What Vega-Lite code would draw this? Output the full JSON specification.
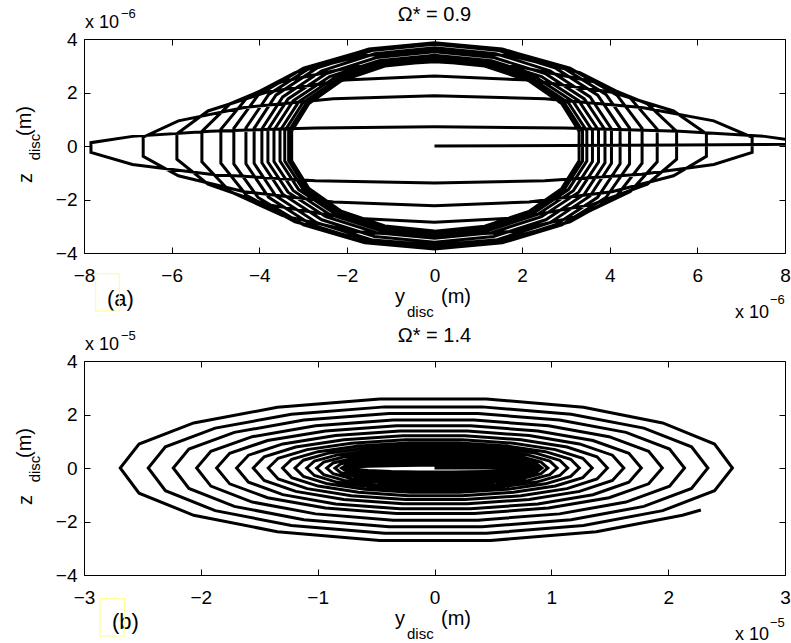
{
"$schema":"https://vega.github.io/schema/vega-lite/v6.json",
"background":"white",
"padding":{"left":14,"top":4,"right":0,"bottom":0},
"autosize":{"type":"pad"},
"config":{"font":"Liberation Sans","view":{"stroke":"black","strokeWidth":1},
"axis":{"grid":false,"domain":false,"ticks":true,"tickColor":"black","tickWidth":1,"tickSize":-6,"labelColor":"black","labelFont":"Liberation Sans","labelFontSize":19,"labelFlush":false,"labelOverlap":false,"labelBound":false},
"axisBottom":{"labelPadding":19},"axisLeft":{"labelPadding":13},
"text":{"font":"Liberation Sans","fill":"black"}},
"datasets":{
"a":[
{"i":0,"y":0,"z":0},{"i":1,"y":2.975,"z":0.02},{"i":2,"y":5.594,"z":0.04},{"i":3,"y":7.534,"z":0.06},{"i":4,"y":8.57,"z":0.07},{"i":5,"y":8.57,"z":0.125},{"i":6,"y":7.534,"z":0.36},{"i":7,"y":5.594,"z":0.552},{"i":8,"y":2.975,"z":0.677},{"i":9,"y":0,"z":0.72},{"i":10,"y":-2.722,"z":0.677},{"i":11,"y":-5.118,"z":0.552},{"i":12,"y":-6.893,"z":0.36},{"i":13,"y":-7.841,"z":0.125},{"i":14,"y":-7.841,"z":-0.24},{"i":15,"y":-6.893,"z":-0.69},{"i":16,"y":-5.118,"z":-1.057},{"i":17,"y":-2.722,"z":-1.297},
{"i":18,"y":0,"z":-1.38},{"i":19,"y":2.517,"z":-1.297},{"i":20,"y":4.732,"z":-1.057},{"i":21,"y":6.374,"z":-0.69},{"i":22,"y":7.25,"z":-0.24},{"i":23,"y":7.25,"z":0.327},{"i":24,"y":6.374,"z":0.94},{"i":25,"y":4.732,"z":1.44},{"i":26,"y":2.517,"z":1.767},{"i":27,"y":0,"z":1.88},{"i":28,"y":-2.309,"z":1.767},{"i":29,"y":-4.34,"z":1.44},{"i":30,"y":-5.846,"z":0.94},{"i":31,"y":-6.649,"z":0.327},{"i":32,"y":-6.649,"z":-0.388},{"i":33,"y":-5.846,"z":-1.115},{"i":34,"y":-4.34,"z":-1.708},{"i":35,"y":-2.309,"z":-2.096},
{"i":36,"y":0,"z":-2.23},{"i":37,"y":2.155,"z":-2.096},{"i":38,"y":4.051,"z":-1.708},{"i":39,"y":5.456,"z":-1.115},{"i":40,"y":6.206,"z":-0.388},{"i":41,"y":6.206,"z":0.456},{"i":42,"y":5.456,"z":1.31},{"i":43,"y":4.051,"z":2.007},{"i":44,"y":2.155,"z":2.463},{"i":45,"y":0,"z":2.62},{"i":46,"y":-2.042,"z":2.463},{"i":47,"y":-3.839,"z":2.007},{"i":48,"y":-5.17,"z":1.31},{"i":49,"y":-5.88,"z":0.456},{"i":50,"y":-5.88,"z":-0.496},{"i":51,"y":-5.17,"z":-1.425},{"i":52,"y":-3.839,"z":-2.183},{"i":53,"y":-2.042,"z":-2.679},
{"i":54,"y":0,"z":-2.85},{"i":55,"y":1.919,"z":-2.679},{"i":56,"y":3.607,"z":-2.183},{"i":57,"y":4.858,"z":-1.425},{"i":58,"y":5.526,"z":-0.496},{"i":59,"y":5.526,"z":0.548},{"i":60,"y":4.858,"z":1.575},{"i":61,"y":3.607,"z":2.413},{"i":62,"y":1.919,"z":2.961},{"i":63,"y":0,"z":3.15},{"i":64,"y":-1.843,"z":2.961},{"i":65,"y":-3.466,"z":2.413},{"i":66,"y":-4.668,"z":1.575},{"i":67,"y":-5.309,"z":0.548},{"i":68,"y":-5.309,"z":-0.592},{"i":69,"y":-4.668,"z":-1.7},{"i":70,"y":-3.466,"z":-2.604},{"i":71,"y":-1.843,"z":-3.196},
{"i":72,"y":0,"z":-3.4},{"i":73,"y":1.765,"z":-3.196},{"i":74,"y":3.318,"z":-2.604},{"i":75,"y":4.469,"z":-1.7},{"i":76,"y":5.083,"z":-0.592},{"i":77,"y":5.083,"z":0.623},{"i":78,"y":4.469,"z":1.79},{"i":79,"y":3.318,"z":2.742},{"i":80,"y":1.765,"z":3.365},{"i":81,"y":0,"z":3.58},{"i":82,"y":-1.693,"z":3.365},{"i":83,"y":-3.183,"z":2.742},{"i":84,"y":-4.287,"z":1.79},{"i":85,"y":-4.876,"z":0.623},{"i":86,"y":-4.876,"z":-0.644},{"i":87,"y":-4.287,"z":-1.85},{"i":88,"y":-3.183,"z":-2.834},{"i":89,"y":-1.693,"z":-3.478},
{"i":90,"y":0,"z":-3.7},{"i":91,"y":1.645,"z":-3.478},{"i":92,"y":3.093,"z":-2.834},{"i":93,"y":4.165,"z":-1.85},{"i":94,"y":4.738,"z":-0.644},{"i":95,"y":4.738,"z":0.661},{"i":96,"y":4.165,"z":1.9},{"i":97,"y":3.093,"z":2.911},{"i":98,"y":1.645,"z":3.572},{"i":99,"y":0,"z":3.8},{"i":100,"y":-1.59,"z":3.572},{"i":101,"y":-2.99,"z":2.911},{"i":102,"y":-4.027,"z":1.9},{"i":103,"y":-4.58,"z":0.661},{"i":104,"y":-4.58,"z":-0.67},{"i":105,"y":-4.027,"z":-1.925},{"i":106,"y":-2.99,"z":-2.949},{"i":107,"y":-1.59,"z":-3.619},
{"i":108,"y":0,"z":-3.85},{"i":109,"y":1.546,"z":-3.619},{"i":110,"y":2.906,"z":-2.949},{"i":111,"y":3.914,"z":-1.925},{"i":112,"y":4.452,"z":-0.67},{"i":113,"y":4.452,"z":0.672},{"i":114,"y":3.914,"z":1.93},{"i":115,"y":2.906,"z":2.957},{"i":116,"y":1.546,"z":3.628},{"i":117,"y":0,"z":3.86},{"i":118,"y":-1.495,"z":3.628},{"i":119,"y":-2.81,"z":2.957},{"i":120,"y":-3.784,"z":1.93},{"i":121,"y":-4.304,"z":0.672},{"i":122,"y":-4.304,"z":-0.668},{"i":123,"y":-3.784,"z":-1.92},{"i":124,"y":-2.81,"z":-2.941},{"i":125,"y":-1.495,"z":-3.61},
{"i":126,"y":0,"z":-3.84},{"i":127,"y":1.471,"z":-3.61},{"i":128,"y":2.765,"z":-2.941},{"i":129,"y":3.724,"z":-1.92},{"i":130,"y":4.236,"z":-0.668},{"i":131,"y":4.236,"z":0.661},{"i":132,"y":3.724,"z":1.9},{"i":133,"y":2.765,"z":2.911},{"i":134,"y":1.471,"z":3.572},{"i":135,"y":0,"z":3.8},{"i":136,"y":-1.43,"z":3.572},{"i":137,"y":-2.688,"z":2.911},{"i":138,"y":-3.62,"z":1.9},{"i":139,"y":-4.117,"z":0.661},{"i":140,"y":-4.117,"z":-0.651},{"i":141,"y":-3.62,"z":-1.87},{"i":142,"y":-2.688,"z":-2.865},{"i":143,"y":-1.43,"z":-3.516},
{"i":144,"y":0,"z":-3.74},{"i":145,"y":1.402,"z":-3.516},{"i":146,"y":2.636,"z":-2.865},{"i":147,"y":3.551,"z":-1.87},{"i":148,"y":4.039,"z":-0.651},{"i":149,"y":4.039,"z":0.639},{"i":150,"y":3.551,"z":1.835},{"i":151,"y":2.636,"z":2.811},{"i":152,"y":1.402,"z":3.45},{"i":153,"y":0,"z":3.67},{"i":154,"y":-1.368,"z":3.45},{"i":155,"y":-2.572,"z":2.811},{"i":156,"y":-3.464,"z":1.835},{"i":157,"y":-3.94,"z":0.639},{"i":158,"y":-3.94,"z":-0.626},{"i":159,"y":-3.464,"z":-1.8},{"i":160,"y":-2.572,"z":-2.758},{"i":161,"y":-1.368,"z":-3.384},
{"i":162,"y":0,"z":-3.6},{"i":163,"y":1.351,"z":-3.384},{"i":164,"y":2.54,"z":-2.758},{"i":165,"y":3.421,"z":-1.8},{"i":166,"y":3.891,"z":-0.626},{"i":167,"y":3.891,"z":0.612},{"i":168,"y":3.421,"z":1.76},{"i":169,"y":2.54,"z":2.696},{"i":170,"y":1.351,"z":3.309},{"i":171,"y":0,"z":3.52},{"i":172,"y":-1.32,"z":3.309},{"i":173,"y":-2.482,"z":2.696},{"i":174,"y":-3.343,"z":1.76},{"i":175,"y":-3.802,"z":0.612},{"i":176,"y":-3.802,"z":-0.6},{"i":177,"y":-3.343,"z":-1.725},{"i":178,"y":-2.482,"z":-2.643},{"i":179,"y":-1.32,"z":-3.243},
{"i":180,"y":0,"z":-3.45},{"i":181,"y":1.3,"z":-3.243},{"i":182,"y":2.443,"z":-2.643},{"i":183,"y":3.291,"z":-1.725},{"i":184,"y":3.743,"z":-0.6},{"i":185,"y":3.743,"z":0.59},{"i":186,"y":3.291,"z":1.695},{"i":187,"y":2.443,"z":2.597},{"i":188,"y":1.3,"z":3.187},{"i":189,"y":0,"z":3.39},{"i":190,"y":-1.272,"z":3.187},{"i":191,"y":-2.392,"z":2.597},{"i":192,"y":-3.222,"z":1.695},{"i":193,"y":-3.664,"z":0.59},{"i":194,"y":-3.664,"z":-0.581},{"i":195,"y":-3.222,"z":-1.67},{"i":196,"y":-2.392,"z":-2.558},{"i":197,"y":-1.272,"z":-3.14},
{"i":198,"y":0,"z":-3.34},{"i":199,"y":1.252,"z":-3.14},{"i":200,"y":2.353,"z":-2.558},{"i":201,"y":3.17,"z":-1.67},{"i":202,"y":3.605,"z":-0.581},{"i":203,"y":3.605,"z":0.574},{"i":204,"y":3.17,"z":1.65},{"i":205,"y":2.353,"z":2.528},{"i":206,"y":1.252,"z":3.102},{"i":207,"y":0,"z":3.3},{"i":208,"y":-1.224,"z":3.102},{"i":209,"y":-2.302,"z":2.528},{"i":210,"y":-3.1,"z":1.65},{"i":211,"y":-3.526,"z":0.574},{"i":212,"y":-3.526,"z":-0.567},{"i":213,"y":-3.1,"z":-1.63},{"i":214,"y":-2.302,"z":-2.497},{"i":215,"y":-1.224,"z":-3.064},
{"i":216,"y":0,"z":-3.26},{"i":217,"y":1.207,"z":-3.064},{"i":218,"y":2.27,"z":-2.497},{"i":219,"y":3.057,"z":-1.63},{"i":220,"y":3.477,"z":-0.567},{"i":221,"y":3.477,"z":0.562},{"i":222,"y":3.057,"z":1.615},{"i":223,"y":2.27,"z":2.474},{"i":224,"y":1.207,"z":3.036},{"i":225,"y":0,"z":3.23},{"i":226,"y":-1.187,"z":3.036},{"i":227,"y":-2.231,"z":2.474},{"i":228,"y":-3.005,"z":1.615},{"i":229,"y":-3.418,"z":0.562},{"i":230,"y":-3.418,"z":-0.559},{"i":231,"y":-3.005,"z":-1.605},{"i":232,"y":-2.231,"z":-2.459},{"i":233,"y":-1.187,"z":-3.017},
{"i":234,"y":0,"z":-3.21},{"i":235,"y":1.173,"z":-3.017},{"i":236,"y":2.205,"z":-2.459},{"i":237,"y":2.97,"z":-1.605},{"i":238,"y":3.379,"z":-0.559},{"i":239,"y":3.379,"z":0.557},{"i":240,"y":2.97,"z":1.6},{"i":241,"y":2.205,"z":2.451},{"i":242,"y":1.173,"z":3.008},{"i":243,"y":0,"z":3.2},{"i":244,"y":-1.156,"z":3.008},{"i":245,"y":-2.173,"z":2.451},{"i":246,"y":-2.927,"z":1.6},{"i":247,"y":-3.329,"z":0.557},{"i":248,"y":-3.329,"z":-0.555},{"i":249,"y":-2.927,"z":-1.595},{"i":250,"y":-2.173,"z":-2.444},{"i":251,"y":-1.156,"z":-2.999},
{"i":252,"y":0,"z":-3.19},{"i":253,"y":1.146,"z":-2.999},{"i":254,"y":2.154,"z":-2.444},{"i":255,"y":2.901,"z":-1.595},{"i":256,"y":3.3,"z":-0.555},{"i":257,"y":3.3,"z":0.553},{"i":258,"y":2.901,"z":1.59},{"i":259,"y":2.154,"z":2.436},{"i":260,"y":1.146,"z":2.989},{"i":261,"y":0,"z":3.18},{"i":262,"y":-1.132,"z":2.989},{"i":263,"y":-2.128,"z":2.436},{"i":264,"y":-2.866,"z":1.59},{"i":265,"y":-3.26,"z":0.553},{"i":266,"y":-3.26,"z":-0.553},{"i":267,"y":-2.866,"z":-1.59},{"i":268,"y":-2.128,"z":-2.436},{"i":269,"y":-1.132,"z":-2.989},{"i":270,"y":0,"z":-3.18}
],
"b":[
{"i":0,"y":0,"z":0},
{"i":1,"y":0.155,"z":0},{"i":2,"y":0.445,"z":0},{"i":3,"y":0.682,"z":0},{"i":4,"y":0.837,"z":0},{"i":5,"y":0.89,"z":0},{"i":6,"y":0.837,"z":0.034},{"i":7,"y":0.682,"z":0.064},{"i":8,"y":0.445,"z":0.087},{"i":9,"y":0.155,"z":0.099},{"i":10,"y":-0.129,"z":0.099},{"i":11,"y":-0.37,"z":0.087},{"i":12,"y":-0.567,"z":0.064},{"i":13,"y":-0.696,"z":0.034},{"i":14,"y":-0.74,"z":0},{"i":15,"y":-0.696,"z":-0.051},{"i":16,"y":-0.567,"z":-0.096},{"i":17,"y":-0.37,"z":-0.13},{"i":18,"y":-0.129,"z":-0.148},
{"i":19,"y":0.15,"z":-0.148},{"i":20,"y":0.43,"z":-0.13},{"i":21,"y":0.659,"z":-0.096},{"i":22,"y":0.808,"z":-0.051},{"i":23,"y":0.86,"z":0},{"i":24,"y":0.808,"z":0.062},{"i":25,"y":0.659,"z":0.116},{"i":26,"y":0.43,"z":0.156},{"i":27,"y":0.15,"z":0.177},{"i":28,"y":-0.131,"z":0.177},{"i":29,"y":-0.375,"z":0.156},{"i":30,"y":-0.575,"z":0.116},{"i":31,"y":-0.705,"z":0.062},{"i":32,"y":-0.75,"z":0},{"i":33,"y":-0.705,"z":-0.082},{"i":34,"y":-0.575,"z":-0.154},{"i":35,"y":-0.375,"z":-0.208},{"i":36,"y":-0.131,"z":-0.236},
{"i":37,"y":0.148,"z":-0.236},{"i":38,"y":0.425,"z":-0.208},{"i":39,"y":0.651,"z":-0.154},{"i":40,"y":0.799,"z":-0.082},{"i":41,"y":0.85,"z":0},{"i":42,"y":0.799,"z":0.092},{"i":43,"y":0.651,"z":0.174},{"i":44,"y":0.425,"z":0.234},{"i":45,"y":0.148,"z":0.266},{"i":46,"y":-0.134,"z":0.266},{"i":47,"y":-0.385,"z":0.234},{"i":48,"y":-0.59,"z":0.174},{"i":49,"y":-0.724,"z":0.092},{"i":50,"y":-0.77,"z":0},{"i":51,"y":-0.724,"z":-0.113},{"i":52,"y":-0.59,"z":-0.212},{"i":53,"y":-0.385,"z":-0.286},{"i":54,"y":-0.134,"z":-0.325},
{"i":55,"y":0.15,"z":-0.325},{"i":56,"y":0.43,"z":-0.286},{"i":57,"y":0.659,"z":-0.212},{"i":58,"y":0.808,"z":-0.113},{"i":59,"y":0.86,"z":0},{"i":60,"y":0.808,"z":0.123},{"i":61,"y":0.659,"z":0.231},{"i":62,"y":0.43,"z":0.312},{"i":63,"y":0.15,"z":0.355},{"i":64,"y":-0.138,"z":0.355},{"i":65,"y":-0.398,"z":0.312},{"i":66,"y":-0.609,"z":0.231},{"i":67,"y":-0.747,"z":0.123},{"i":68,"y":-0.795,"z":0},{"i":69,"y":-0.747,"z":-0.147},{"i":70,"y":-0.609,"z":-0.276},{"i":71,"y":-0.398,"z":-0.372},{"i":72,"y":-0.138,"z":-0.424},
{"i":73,"y":0.153,"z":-0.424},{"i":74,"y":0.44,"z":-0.372},{"i":75,"y":0.674,"z":-0.276},{"i":76,"y":0.827,"z":-0.147},{"i":77,"y":0.88,"z":0},{"i":78,"y":0.827,"z":0.154},{"i":79,"y":0.674,"z":0.289},{"i":80,"y":0.44,"z":0.39},{"i":81,"y":0.153,"z":0.443},{"i":82,"y":-0.148,"z":0.443},{"i":83,"y":-0.426,"z":0.39},{"i":84,"y":-0.653,"z":0.289},{"i":85,"y":-0.801,"z":0.154},{"i":86,"y":-0.852,"z":0},{"i":87,"y":-0.801,"z":-0.178},{"i":88,"y":-0.653,"z":-0.334},{"i":89,"y":-0.426,"z":-0.45},{"i":90,"y":-0.148,"z":-0.512},
{"i":91,"y":0.16,"z":-0.512},{"i":92,"y":0.46,"z":-0.45},{"i":93,"y":0.705,"z":-0.334},{"i":94,"y":0.865,"z":-0.178},{"i":95,"y":0.92,"z":0},{"i":96,"y":0.865,"z":0.188},{"i":97,"y":0.705,"z":0.354},{"i":98,"y":0.46,"z":0.476},{"i":99,"y":0.16,"z":0.542},{"i":100,"y":-0.161,"z":0.542},{"i":101,"y":-0.462,"z":0.476},{"i":102,"y":-0.707,"z":0.354},{"i":103,"y":-0.868,"z":0.188},{"i":104,"y":-0.923,"z":0},{"i":105,"y":-0.868,"z":-0.212},{"i":106,"y":-0.707,"z":-0.399},{"i":107,"y":-0.462,"z":-0.537},{"i":108,"y":-0.161,"z":-0.611},
{"i":109,"y":0.169,"z":-0.611},{"i":110,"y":0.485,"z":-0.537},{"i":111,"y":0.743,"z":-0.399},{"i":112,"y":0.912,"z":-0.212},{"i":113,"y":0.97,"z":0},{"i":114,"y":0.912,"z":0.222},{"i":115,"y":0.743,"z":0.418},{"i":116,"y":0.485,"z":0.563},{"i":117,"y":0.169,"z":0.64},{"i":118,"y":-0.176,"z":0.64},{"i":119,"y":-0.505,"z":0.563},{"i":120,"y":-0.773,"z":0.418},{"i":121,"y":-0.948,"z":0.222},{"i":122,"y":-1.009,"z":0},{"i":123,"y":-0.948,"z":-0.246},{"i":124,"y":-0.773,"z":-0.463},{"i":125,"y":-0.505,"z":-0.624},{"i":126,"y":-0.176,"z":-0.709},
{"i":127,"y":0.183,"z":-0.709},{"i":128,"y":0.525,"z":-0.624},{"i":129,"y":0.804,"z":-0.463},{"i":130,"y":0.987,"z":-0.246},{"i":131,"y":1.05,"z":0},{"i":132,"y":0.987,"z":0.257},{"i":133,"y":0.804,"z":0.482},{"i":134,"y":0.525,"z":0.65},{"i":135,"y":0.183,"z":0.739},{"i":136,"y":-0.19,"z":0.739},{"i":137,"y":-0.547,"z":0.65},{"i":138,"y":-0.838,"z":0.482},{"i":139,"y":-1.028,"z":0.257},{"i":140,"y":-1.094,"z":0},{"i":141,"y":-1.028,"z":-0.28},{"i":142,"y":-0.838,"z":-0.527},{"i":143,"y":-0.547,"z":-0.71},{"i":144,"y":-0.19,"z":-0.808},
{"i":145,"y":0.198,"z":-0.808},{"i":146,"y":0.57,"z":-0.71},{"i":147,"y":0.873,"z":-0.527},{"i":148,"y":1.072,"z":-0.28},{"i":149,"y":1.14,"z":0},{"i":150,"y":1.072,"z":0.291},{"i":151,"y":0.873,"z":0.547},{"i":152,"y":0.57,"z":0.736},{"i":153,"y":0.198,"z":0.837},{"i":154,"y":-0.208,"z":0.837},{"i":155,"y":-0.597,"z":0.736},{"i":156,"y":-0.915,"z":0.547},{"i":157,"y":-1.122,"z":0.291},{"i":158,"y":-1.194,"z":0},{"i":159,"y":-1.122,"z":-0.315},{"i":160,"y":-0.915,"z":-0.592},{"i":161,"y":-0.597,"z":-0.797},{"i":162,"y":-0.208,"z":-0.906},
{"i":163,"y":0.216,"z":-0.906},{"i":164,"y":0.62,"z":-0.797},{"i":165,"y":0.95,"z":-0.592},{"i":166,"y":1.166,"z":-0.315},{"i":167,"y":1.24,"z":0},{"i":168,"y":1.166,"z":0.325},{"i":169,"y":0.95,"z":0.611},{"i":170,"y":0.62,"z":0.823},{"i":171,"y":0.216,"z":0.936},{"i":172,"y":-0.226,"z":0.936},{"i":173,"y":-0.65,"z":0.823},{"i":174,"y":-0.996,"z":0.611},{"i":175,"y":-1.222,"z":0.325},{"i":176,"y":-1.3,"z":0},{"i":177,"y":-1.222,"z":-0.359},{"i":178,"y":-0.996,"z":-0.675},{"i":179,"y":-0.65,"z":-0.909},{"i":180,"y":-0.226,"z":-1.034},
{"i":181,"y":0.235,"z":-1.034},{"i":182,"y":0.675,"z":-0.909},{"i":183,"y":1.034,"z":-0.675},{"i":184,"y":1.269,"z":-0.359},{"i":185,"y":1.35,"z":0},{"i":186,"y":1.269,"z":0.366},{"i":187,"y":1.034,"z":0.688},{"i":188,"y":0.675,"z":0.927},{"i":189,"y":0.235,"z":1.054},{"i":190,"y":-0.248,"z":1.054},{"i":191,"y":-0.712,"z":0.927},{"i":192,"y":-1.09,"z":0.688},{"i":193,"y":-1.338,"z":0.366},{"i":194,"y":-1.423,"z":0},{"i":195,"y":-1.338,"z":-0.41},{"i":196,"y":-1.09,"z":-0.772},{"i":197,"y":-0.712,"z":-1.039},{"i":198,"y":-0.248,"z":-1.182},
{"i":199,"y":0.258,"z":-1.182},{"i":200,"y":0.74,"z":-1.039},{"i":201,"y":1.134,"z":-0.772},{"i":202,"y":1.391,"z":-0.41},{"i":203,"y":1.48,"z":0},{"i":204,"y":1.391,"z":0.417},{"i":205,"y":1.134,"z":0.784},{"i":206,"y":0.74,"z":1.057},{"i":207,"y":0.258,"z":1.202},{"i":208,"y":-0.27,"z":1.202},{"i":209,"y":-0.776,"z":1.057},{"i":210,"y":-1.188,"z":0.784},{"i":211,"y":-1.458,"z":0.417},{"i":212,"y":-1.551,"z":0},{"i":213,"y":-1.458,"z":-0.465},{"i":214,"y":-1.188,"z":-0.874},{"i":215,"y":-0.776,"z":-1.178},{"i":216,"y":-0.27,"z":-1.34},
{"i":217,"y":0.282,"z":-1.34},{"i":218,"y":0.81,"z":-1.178},{"i":219,"y":1.241,"z":-0.874},{"i":220,"y":1.523,"z":-0.465},{"i":221,"y":1.62,"z":0},{"i":222,"y":1.523,"z":0.479},{"i":223,"y":1.241,"z":0.9},{"i":224,"y":0.81,"z":1.212},{"i":225,"y":0.282,"z":1.379},{"i":226,"y":-0.295,"z":1.379},{"i":227,"y":-0.847,"z":1.212},{"i":228,"y":-1.298,"z":0.9},{"i":229,"y":-1.592,"z":0.479},{"i":230,"y":-1.694,"z":0},{"i":231,"y":-1.592,"z":-0.53},{"i":232,"y":-1.298,"z":-0.997},{"i":233,"y":-0.847,"z":-1.342},{"i":234,"y":-0.295,"z":-1.527},
{"i":235,"y":0.308,"z":-1.527},{"i":236,"y":0.885,"z":-1.342},{"i":237,"y":1.356,"z":-0.997},{"i":238,"y":1.664,"z":-0.53},{"i":239,"y":1.77,"z":0},{"i":240,"y":1.664,"z":0.547},{"i":241,"y":1.356,"z":1.029},{"i":242,"y":0.885,"z":1.386},{"i":243,"y":0.308,"z":1.576},{"i":244,"y":-0.325,"z":1.576},{"i":245,"y":-0.933,"z":1.386},{"i":246,"y":-1.429,"z":1.029},{"i":247,"y":-1.753,"z":0.547},{"i":248,"y":-1.865,"z":0},{"i":249,"y":-1.753,"z":-0.592},{"i":250,"y":-1.429,"z":-1.112},{"i":251,"y":-0.933,"z":-1.498},{"i":252,"y":-0.325,"z":-1.704},
{"i":253,"y":0.339,"z":-1.704},{"i":254,"y":0.975,"z":-1.498},{"i":255,"y":1.494,"z":-1.112},{"i":256,"y":1.833,"z":-0.592},{"i":257,"y":1.95,"z":0},{"i":258,"y":1.833,"z":0.622},{"i":259,"y":1.494,"z":1.17},{"i":260,"y":0.975,"z":1.576},{"i":261,"y":0.339,"z":1.793},{"i":262,"y":-0.354,"z":1.793},{"i":263,"y":-1.018,"z":1.576},{"i":264,"y":-1.56,"z":1.17},{"i":265,"y":-1.914,"z":0.622},{"i":266,"y":-2.036,"z":0},{"i":267,"y":-1.914,"z":-0.677},{"i":268,"y":-1.56,"z":-1.273},{"i":269,"y":-1.018,"z":-1.715},{"i":270,"y":-0.354,"z":-1.95},
{"i":271,"y":0.372,"z":-1.95},{"i":272,"y":1.07,"z":-1.715},{"i":273,"y":1.639,"z":-1.273},{"i":274,"y":2.012,"z":-0.677},{"i":275,"y":2.14,"z":0},{"i":276,"y":2.012,"z":0.708},{"i":277,"y":1.639,"z":1.331},{"i":278,"y":1.07,"z":1.793},{"i":279,"y":0.372,"z":2.039},{"i":280,"y":-0.389,"z":2.039},{"i":281,"y":-1.118,"z":1.793},{"i":282,"y":-1.713,"z":1.331},{"i":283,"y":-2.102,"z":0.708},{"i":284,"y":-2.236,"z":0},{"i":285,"y":-2.102,"z":-0.763},{"i":286,"y":-1.713,"z":-1.434},{"i":287,"y":-1.118,"z":-1.931},{"i":288,"y":-0.389,"z":-2.197},
{"i":289,"y":0.407,"z":-2.197},{"i":290,"y":1.17,"z":-1.931},{"i":291,"y":1.792,"z":-1.434},{"i":292,"y":2.2,"z":-0.763},{"i":293,"y":2.34,"z":0},{"i":294,"y":2.2,"z":0.793},{"i":295,"y":1.792,"z":1.492},{"i":296,"y":1.17,"z":2.009},{"i":297,"y":0.407,"z":2.285},{"i":298,"y":-0.426,"z":2.285},{"i":299,"y":-1.225,"z":2.009},{"i":300,"y":-1.877,"z":1.492},{"i":301,"y":-2.303,"z":0.793},{"i":302,"y":-2.45,"z":0},{"i":303,"y":-2.303,"z":-0.848},{"i":304,"y":-1.877,"z":-1.595},{"i":305,"y":-1.225,"z":-2.148},{"i":306,"y":-0.426,"z":-2.443},
{"i":307,"y":0.444,"z":-2.443},{"i":308,"y":1.275,"z":-2.148},{"i":309,"y":1.953,"z":-1.595},{"i":310,"y":2.397,"z":-0.848},{"i":311,"y":2.55,"z":0},{"i":312,"y":2.397,"z":0.896},{"i":313,"y":1.953,"z":1.685},{"i":314,"y":1.275,"z":2.269},{"i":315,"y":0.444,"z":2.581},{"i":316,"y":-0.468,"z":2.581},{"i":317,"y":-1.345,"z":2.269},{"i":318,"y":-2.061,"z":1.685},{"i":319,"y":-2.529,"z":0.896},{"i":320,"y":-2.69,"z":0},{"i":321,"y":-2.529,"z":-0.941},{"i":322,"y":-2.061,"z":-1.768},{"i":323,"y":-1.345,"z":-2.382},{"i":324,"y":-0.468,"z":-2.709},
{"i":325,"y":0.482,"z":-2.709},{"i":326,"y":1.385,"z":-2.382},{"i":327,"y":2.122,"z":-1.768},{"i":328,"y":2.28,"z":-1.57}
]},
"bounds":"flush",
"spacing":108,
"vconcat":[
{"width":701,"height":214,"layer":[
{"data":{"name":"a"},"mark":{"type":"line","color":"black","strokeWidth":3,"clip":true},
"encoding":{"x":{"field":"y","type":"quantitative","scale":{"domain":[-8,8],"nice":false,"zero":false},"axis":{"orient":"bottom","values":[-8,-6,-4,-2,0,2,4,6,8],"title":null}},
"y":{"field":"z","type":"quantitative","scale":{"domain":[-4,4],"nice":false,"zero":false},"axis":{"orient":"left","values":[-4,-2,0,2,4],"title":null}},
"order":{"field":"i","type":"quantitative"}}},
{"data":{"name":"a"},"transform":[{"filter":"datum.i == 0"}],"mark":{"type":"point","opacity":0},
"encoding":{"x":{"field":"y","type":"quantitative","axis":{"orient":"top","values":[-8,-6,-4,-2,0,2,4,6,8],"labels":false,"title":null}},
"y":{"field":"z","type":"quantitative","axis":{"orient":"right","values":[-4,-2,0,2,4],"labels":false,"title":null}}}},
{"data":{"values":[{"t":"x 10"}]},"mark":{"type":"text","x":1,"y":-11,"align":"left","baseline":"alphabetic","fontSize":18},"encoding":{"text":{"field":"t"}}},
{"data":{"values":[{"t":"−6"}]},"mark":{"type":"text","x":37,"y":-21,"align":"left","baseline":"alphabetic","fontSize":13},"encoding":{"text":{"field":"t"}}},
{"data":{"values":[{"t":"Ω* = 0.9"}]},"mark":{"type":"text","x":350.5,"y":-18,"align":"center","baseline":"alphabetic","fontSize":20},"encoding":{"text":{"field":"t"}}},
{"data":{"values":[{"t":"y"}]},"mark":{"type":"text","x":311,"y":264,"align":"left","baseline":"alphabetic","fontSize":20},"encoding":{"text":{"field":"t"}}},
{"data":{"values":[{"t":"disc"}]},"mark":{"type":"text","x":323,"y":278,"align":"left","baseline":"alphabetic","fontSize":15},"encoding":{"text":{"field":"t"}}},
{"data":{"values":[{"t":"(m)"}]},"mark":{"type":"text","x":357,"y":264,"align":"left","baseline":"alphabetic","fontSize":20},"encoding":{"text":{"field":"t"}}},
{"data":{"values":[{"t":"x 10"}]},"mark":{"type":"text","x":685,"y":279,"align":"right","baseline":"alphabetic","fontSize":18},"encoding":{"text":{"field":"t"}}},
{"data":{"values":[{"t":"−6"}]},"mark":{"type":"text","x":686,"y":265,"align":"left","baseline":"alphabetic","fontSize":13},"encoding":{"text":{"field":"t"}}},
{"data":{"values":[{"t":"(a)"}]},"mark":{"type":"text","x":23,"y":267,"align":"left","baseline":"alphabetic","fontSize":22},"encoding":{"text":{"field":"t"}}},
{"data":{"values":[{"t":"z"}]},"mark":{"type":"text","x":-52,"y":139,"angle":270,"align":"center","baseline":"alphabetic","fontSize":20},"encoding":{"text":{"field":"t"}}},
{"data":{"values":[{"t":"disc"}]},"mark":{"type":"text","x":-44,"y":108,"angle":270,"align":"center","baseline":"alphabetic","fontSize":15},"encoding":{"text":{"field":"t"}}},
{"data":{"values":[{"t":"(m)"}]},"mark":{"type":"text","x":-53,"y":82,"angle":270,"align":"center","baseline":"alphabetic","fontSize":20},"encoding":{"text":{"field":"t"}}},
{"data":{"values":[{"t":"a"}]},"mark":{"type":"rect","x":11.7,"y":234.7,"x2":35.3,"y2":272,"fill":"white","fillOpacity":0,"stroke":"#ffff80","strokeWidth":1}}
]},
{"width":701,"height":214,"layer":[
{"data":{"name":"b"},"mark":{"type":"line","color":"black","strokeWidth":3,"clip":true},
"encoding":{"x":{"field":"y","type":"quantitative","scale":{"domain":[-3,3],"nice":false,"zero":false},"axis":{"orient":"bottom","values":[-3,-2,-1,0,1,2,3],"title":null}},
"y":{"field":"z","type":"quantitative","scale":{"domain":[-4,4],"nice":false,"zero":false},"axis":{"orient":"left","values":[-4,-2,0,2,4],"title":null}},
"order":{"field":"i","type":"quantitative"}}},
{"data":{"name":"b"},"transform":[{"filter":"datum.i == 0"}],"mark":{"type":"point","opacity":0},
"encoding":{"x":{"field":"y","type":"quantitative","axis":{"orient":"top","values":[-3,-2,-1,0,1,2,3],"labels":false,"title":null}},
"y":{"field":"z","type":"quantitative","axis":{"orient":"right","values":[-4,-2,0,2,4],"labels":false,"title":null}}}},
{"data":{"values":[{"t":"x 10"}]},"mark":{"type":"text","x":1,"y":-11,"align":"left","baseline":"alphabetic","fontSize":18},"encoding":{"text":{"field":"t"}}},
{"data":{"values":[{"t":"−5"}]},"mark":{"type":"text","x":37,"y":-21,"align":"left","baseline":"alphabetic","fontSize":13},"encoding":{"text":{"field":"t"}}},
{"data":{"values":[{"t":"Ω* = 1.4"}]},"mark":{"type":"text","x":350.5,"y":-19,"align":"center","baseline":"alphabetic","fontSize":20},"encoding":{"text":{"field":"t"}}},
{"data":{"values":[{"t":"y"}]},"mark":{"type":"text","x":311,"y":264,"align":"left","baseline":"alphabetic","fontSize":20},"encoding":{"text":{"field":"t"}}},
{"data":{"values":[{"t":"disc"}]},"mark":{"type":"text","x":323,"y":278,"align":"left","baseline":"alphabetic","fontSize":15},"encoding":{"text":{"field":"t"}}},
{"data":{"values":[{"t":"(m)"}]},"mark":{"type":"text","x":357,"y":264,"align":"left","baseline":"alphabetic","fontSize":20},"encoding":{"text":{"field":"t"}}},
{"data":{"values":[{"t":"x 10"}]},"mark":{"type":"text","x":685,"y":279,"align":"right","baseline":"alphabetic","fontSize":18},"encoding":{"text":{"field":"t"}}},
{"data":{"values":[{"t":"−5"}]},"mark":{"type":"text","x":686,"y":266,"align":"left","baseline":"alphabetic","fontSize":13},"encoding":{"text":{"field":"t"}}},
{"data":{"values":[{"t":"(b)"}]},"mark":{"type":"text","x":28,"y":268,"align":"left","baseline":"alphabetic","fontSize":22},"encoding":{"text":{"field":"t"}}},
{"data":{"values":[{"t":"z"}]},"mark":{"type":"text","x":-52,"y":139,"angle":270,"align":"center","baseline":"alphabetic","fontSize":20},"encoding":{"text":{"field":"t"}}},
{"data":{"values":[{"t":"disc"}]},"mark":{"type":"text","x":-44,"y":108,"angle":270,"align":"center","baseline":"alphabetic","fontSize":15},"encoding":{"text":{"field":"t"}}},
{"data":{"values":[{"t":"(m)"}]},"mark":{"type":"text","x":-53,"y":82,"angle":270,"align":"center","baseline":"alphabetic","fontSize":20},"encoding":{"text":{"field":"t"}}},
{"data":{"values":[{"t":"b"}]},"mark":{"type":"rect","x":16,"y":237.7,"x2":40.3,"y2":275,"fill":"white","fillOpacity":0,"stroke":"#ffff80","strokeWidth":1}}
]}
]
}
